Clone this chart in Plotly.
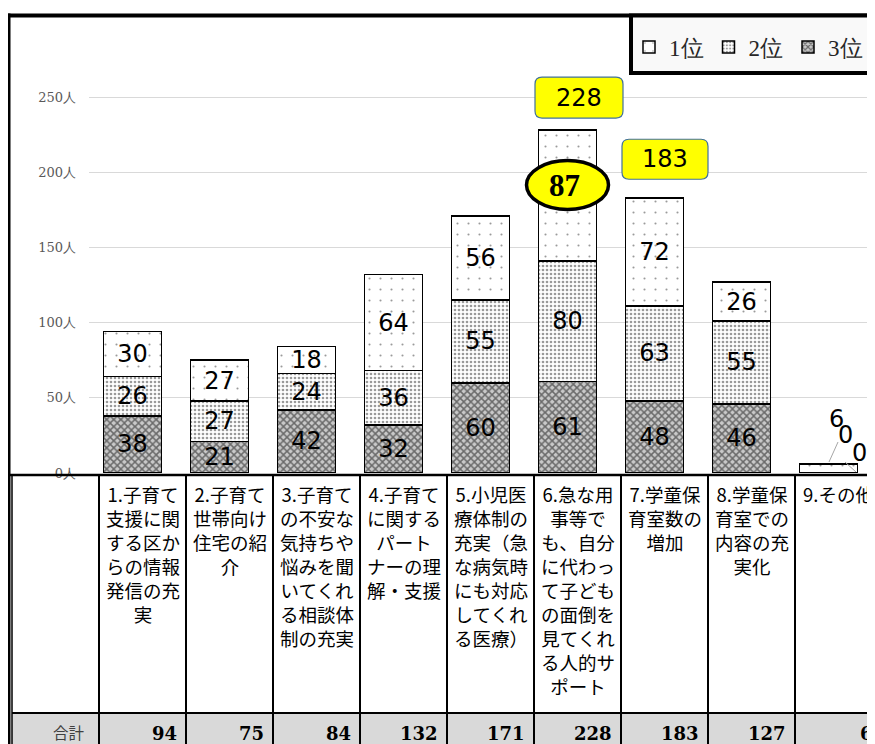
import plotly.graph_objects as go

# ---------------- data ----------------
category_lines = [
    ["1.子育て", "支援に関", "する区か", "らの情報", "発信の充", "実"],
    ["2.子育て", "世帯向け", "住宅の紹", "介"],
    ["3.子育て", "の不安な", "気持ちや", "悩みを聞", "いてくれ", "る相談体", "制の充実"],
    ["4.子育て", "に関する", "パート", "ナーの理", "解・支援"],
    ["5.小児医", "療体制の", "充実（急", "な病気時", "にも対応", "してくれ", "る医療）"],
    ["6.急な用", "事等で", "も、自分", "に代わっ", "て子ども", "の面倒を", "見てくれ", "る人的サ", "ポート"],
    ["7.学童保", "育室数の", "増加"],
    ["8.学童保", "育室での", "内容の充", "実化"],
    ["9.その他"],
]
categories = ["".join(c) for c in category_lines]
rank1 = [30, 27, 18, 64, 56, 87, 72, 26, 6]
rank2 = [26, 27, 24, 36, 55, 80, 63, 55, 0]
rank3 = [38, 21, 42, 32, 60, 61, 48, 46, 0]
series_names = ["1位", "2位", "3位"]
y_ticks = [0, 50, 100, 150, 200, 250]
y_tick_labels = [f"{v}人" for v in y_ticks]
total_label = "合計"
totals = [a + b + c for a, b, c in zip(rank1, rank2, rank3)]

# ---------------- geometry helpers ----------------
# the page has an 8px body margin, so the figure is made 8px smaller
OFF = 8
W, H = 875 - OFF, 744 - OFF
L, R, T, B = 89 - OFF, 3, 20 - OFF, 271
PW, PH = W - L - R, H - T - B
YMAX = PH / 1.504


def px(x):  # page pixel -> paper x
    return (x - OFF - L) / PW


def py(y):  # page pixel -> paper y
    return (H - B - (y - OFF)) / PH


n = len(categories)
other_idx = n - 1
hi_idx = max(range(n), key=lambda i: rank1[i])


def seg_text(vals):
    return ["" if (i == other_idx) else str(v) for i, v in enumerate(vals)]


t1 = seg_text(rank1)
t1[hi_idx] = ""

fig = go.Figure()
common = dict(width=0.67, textposition="inside", insidetextanchor="middle",
              constraintext="none", textangle=0,
              textfont=dict(family="DejaVu Sans", size=24, color="black"),
              hoverinfo="skip")
fig.add_trace(go.Bar(
    x=categories, y=rank3, name=series_names[2], text=seg_text(rank3),
    marker=dict(color="#b0b0b0", line=dict(color="black", width=1.5),
                pattern=dict(shape="x", bgcolor="#c9c9c9", fgcolor="#6a6a6a",
                             size=5, solidity=0.5, fillmode="replace")),
    **common))
fig.add_trace(go.Bar(
    x=categories, y=rank2, name=series_names[1], text=seg_text(rank2),
    marker=dict(color="#eeeeee", line=dict(color="black", width=1.5),
                pattern=dict(shape=".", bgcolor="#ffffff", fgcolor="#9a9a9a",
                             size=4, solidity=0.35, fillmode="replace")),
    **common))
fig.add_trace(go.Bar(
    x=categories, y=rank1, name=series_names[0], text=t1,
    marker=dict(color="#ffffff", line=dict(color="black", width=1.5),
                pattern=dict(shape=".", bgcolor="#ffffff", fgcolor="#9a9a9a",
                             size=11, solidity=0.03, fillmode="replace")),
    **common))

shapes = []
ann = []

# --- table background / lines ---
shapes.append(dict(type="rect", xref="paper", yref="paper", x0=px(12), x1=px(885),
                   y0=py(713), y1=py(760), fillcolor="#d9d9d9", line=dict(width=0)))
shapes.append(dict(type="line", xref="paper", yref="paper", x0=px(7), x1=px(885),
                   y0=py(475), y1=py(475), line=dict(color="black", width=2.5)))
shapes.append(dict(type="line", xref="paper", yref="paper", x0=px(12), x1=px(885),
                   y0=py(713), y1=py(713), line=dict(color="black", width=2)))
shapes.append(dict(type="line", xref="paper", yref="paper", x0=px(12), x1=px(12),
                   y0=py(475), y1=py(760), line=dict(color="black", width=1.5)))
for k in range(n):
    xx = 99 + 87 * k
    shapes.append(dict(type="line", xref="paper", yref="paper", x0=px(xx), x1=px(xx),
                       y0=py(475), y1=py(760), line=dict(color="black", width=2)))
# outer frame
shapes.append(dict(type="line", xref="paper", yref="paper", x0=px(6.5), x1=px(885),
                   y0=py(15.5), y1=py(15.5), line=dict(color="black", width=4)))
shapes.append(dict(type="line", xref="paper", yref="paper", x0=px(8.5), x1=px(8.5),
                   y0=py(13.5), y1=py(760), line=dict(color="black", width=4)))
# legend box
shapes.append(dict(type="rect", xref="paper", yref="paper", x0=px(631), x1=px(890),
                   y0=py(15.5), y1=py(73), fillcolor="#f9f9f9",
                   line=dict(color="black", width=4)))

# --- category labels (one wrapped block per column) ---
for k, lines in enumerate(category_lines):
    ann.append(dict(x=k, xref="x", xshift=10, y=py(479), yref="paper",
                    text="<br>".join(lines), showarrow=False, align="center",
                    xanchor="center", yanchor="top",
                    font=dict(family="Noto Sans CJK JP", size=18.5, color="black")))
# --- totals row ---
ann.append(dict(x=px(87), xref="paper", y=py(732), yref="paper", text=total_label,
                showarrow=False, xanchor="right", yanchor="middle",
                font=dict(family="Noto Sans CJK JP", size=15.5, color="#404040")))
for k, v in enumerate(totals):
    ann.append(dict(x=k, xref="x", xshift=46, y=py(733), yref="paper", text=str(v),
                    showarrow=False, xanchor="right", yanchor="middle",
                    font=dict(family="DejaVu Serif", size=18, color="black",
                              weight="bold")))

# --- highlighted totals (top 2) ---
top2 = sorted(range(n), key=lambda i: -totals[i])[:2]
offsets = [(11.5, 32.5, 88, 41), (10.5, 38.5, 86, 40)]


def rrect(cx, cy, w, h, r=7):
    x0, x1 = cx - w / 2, cx + w / 2
    y0, y1 = cy - h / 2, cy + h / 2
    return (f"M{x0 + r},{y0} L{x1 - r},{y0} Q{x1},{y0} {x1},{y0 + r} "
            f"L{x1},{y1 - r} Q{x1},{y1} {x1 - r},{y1} L{x0 + r},{y1} "
            f"Q{x0},{y1} {x0},{y1 - r} L{x0},{y0 + r} Q{x0},{y0} {x0 + r},{y0} Z")


for idx, (dx, dy, w, h) in zip(top2, offsets):
    shapes.append(dict(type="path", xref="x", yref="y", xsizemode="pixel",
                       ysizemode="pixel", xanchor=idx, yanchor=totals[idx],
                       path=rrect(dx, dy, w, h), fillcolor="#ffff00",
                       line=dict(color="#41719c", width=1.2)))
    ann.append(dict(x=idx, y=totals[idx], xref="x", yref="y", xshift=dx, yshift=dy,
                    text=str(totals[idx]), showarrow=False,
                    font=dict(family="DejaVu Sans", size=24, color="black")))

# --- highlighted max 1位 in ellipse ---
mid = rank3[hi_idx] + rank2[hi_idx] + rank1[hi_idx] / 2
shapes.append(dict(type="circle", xref="x", yref="y", xsizemode="pixel",
                   ysizemode="pixel", xanchor=hi_idx, yanchor=mid,
                   x0=-41, x1=41, y0=-14, y1=35, fillcolor="#ffff00",
                   line=dict(color="black", width=3.5)))
ann.append(dict(x=hi_idx, y=mid, xref="x", yref="y", yshift=10, xshift=-3,
                text=str(rank1[hi_idx]), showarrow=False,
                font=dict(family="Liberation Serif", size=31, color="black",
                          weight="bold")))

# --- callout labels for その他 ---
for v, (dx, dy) in zip([rank1[other_idx], rank2[other_idx], rank3[other_idx]],
                       [(8, 54), (16.5, 38), (30.5, 20)]):
    ann.append(dict(x=other_idx, y=0, xref="x", yref="y", xshift=dx, yshift=dy,
                    text=str(v), showarrow=False,
                    font=dict(family="DejaVu Sans", size=24, color="black")))
for (a, b, c, d) in [(9.5, 31, 0.5, 11), (16.5, 11, 27.5, 1)]:
    shapes.append(dict(type="line", xref="x", yref="y", xsizemode="pixel",
                       ysizemode="pixel", xanchor=other_idx, yanchor=0,
                       x0=a, y0=b, x1=c, y1=d, line=dict(color="#a6a6a6", width=1)))

fig.update_layout(
    width=W, height=H,
    margin=dict(l=L, r=R, t=T, b=B, pad=0, autoexpand=False),
    barmode="stack", bargap=0.33,
    paper_bgcolor="white", plot_bgcolor="white",
    showlegend=True,
    legend=dict(orientation="h", xref="container", yref="container",
                x=621 / W, xanchor="left", y=1 - 39 / H, yanchor="middle",
                bgcolor="rgba(0,0,0,0)", borderwidth=0, traceorder="reversed",
                itemwidth=30, tracegroupgap=0,
                font=dict(family="Liberation Serif", size=23, color="#262626")),
    xaxis=dict(range=[-0.5, n - 0.5], showticklabels=False, showgrid=False,
               showline=False, zeroline=False, fixedrange=True),
    yaxis=dict(range=[0, YMAX], tickmode="array", tickvals=y_ticks,
               ticktext=y_tick_labels,
               showgrid=True, gridcolor="#d9d9d9", gridwidth=1,
               zeroline=False, showline=False, ticklabelstandoff=12,
               tickfont=dict(family="DejaVu Serif", size=13, color="#595959")),
    shapes=shapes,
    annotations=ann,
)

fig.write_html("out.html")
